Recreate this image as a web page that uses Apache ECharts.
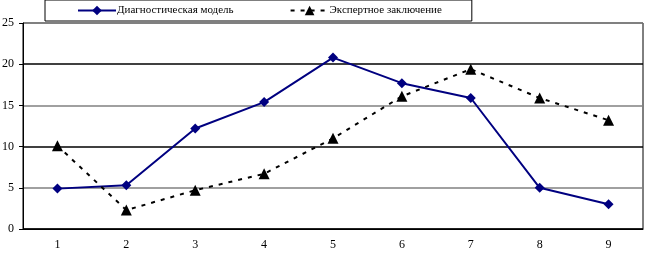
<!DOCTYPE html>
<html lang="ru">
<head>
    <meta charset="UTF-8">
    <script src="https://cdn.jsdelivr.net/npm/echarts@6/dist/echarts.min.js"></script>
    <title>Диагностическая модель</title>
    <style>
        html, body { margin: 0; padding: 0; background: #fff; }
        #chart { width: 645px; height: 254px; }
    </style>
</head>
<body>
<div id="chart"></div>
<script type="text/javascript">
    var categories = ['1', '2', '3', '4', '5', '6', '7', '8', '9'];
    var modelValues = [4.9, 5.3, 12.2, 15.4, 20.8, 17.7, 15.9, 5.0, 3.0];
    var expertValues = [10.1, 2.3, 4.7, 6.7, 11.0, 16.1, 19.4, 15.9, 13.2];
    var seriesNames = ['Диагностическая модель', 'Экспертное заключение'];

    var font = 'Liberation Serif';
    var myChart = echarts.init(document.getElementById('chart'));
    var option = {
        animation: false,
        legend: {
            data: seriesNames,
            left: 45,
            top: 0,
            padding: [5, 30, 5, 32],
            itemGap: 56,
            itemWidth: 38,
            itemHeight: 12,
            borderColor: '#000',
            borderWidth: 1,
            textStyle: { fontFamily: font, fontSize: 11, color: '#000', padding: [0, 0, 0, -4] }
        },
        grid: {
            left: 23, right: 2, top: 23, bottom: 25,
            outerBoundsMode: 'none',
            show: true,
            borderColor: '#000',
            borderWidth: 1
        },
        xAxis: {
            type: 'category',
            data: categories,
            axisLine: { lineStyle: { color: '#000', width: 1 } },
            axisTick: { length: 4, lineStyle: { color: '#000' } },
            axisLabel: { fontFamily: font, fontSize: 12, color: '#000', margin: 10 },
            splitLine: { show: false }
        },
        yAxis: {
            type: 'value',
            min: 0, max: 25, interval: 5,
            axisLine: { show: true, lineStyle: { color: '#000', width: 1 } },
            axisTick: { show: true, length: 4, lineStyle: { color: '#000' } },
            axisLabel: { fontFamily: font, fontSize: 12, color: '#000', margin: 9 },
            splitLine: { lineStyle: { color: ['#000', '#808080'], width: 1.5 } }
        },
        series: [
            {
                name: seriesNames[0],
                type: 'line',
                data: modelValues,
                color: '#000080',
                symbol: 'diamond',
                symbolSize: 10,
                lineStyle: { width: 2, color: '#000080' },
                itemStyle: { color: '#000080' }
            },
            {
                name: seriesNames[1],
                type: 'line',
                data: expertValues,
                color: '#000',
                symbol: 'triangle',
                symbolSize: 11,
                lineStyle: { width: 2, type: [4, 6], color: '#000' },
                itemStyle: { color: '#000' }
            }
        ]
    };
    myChart.setOption(option);
</script>
</body>
</html>
